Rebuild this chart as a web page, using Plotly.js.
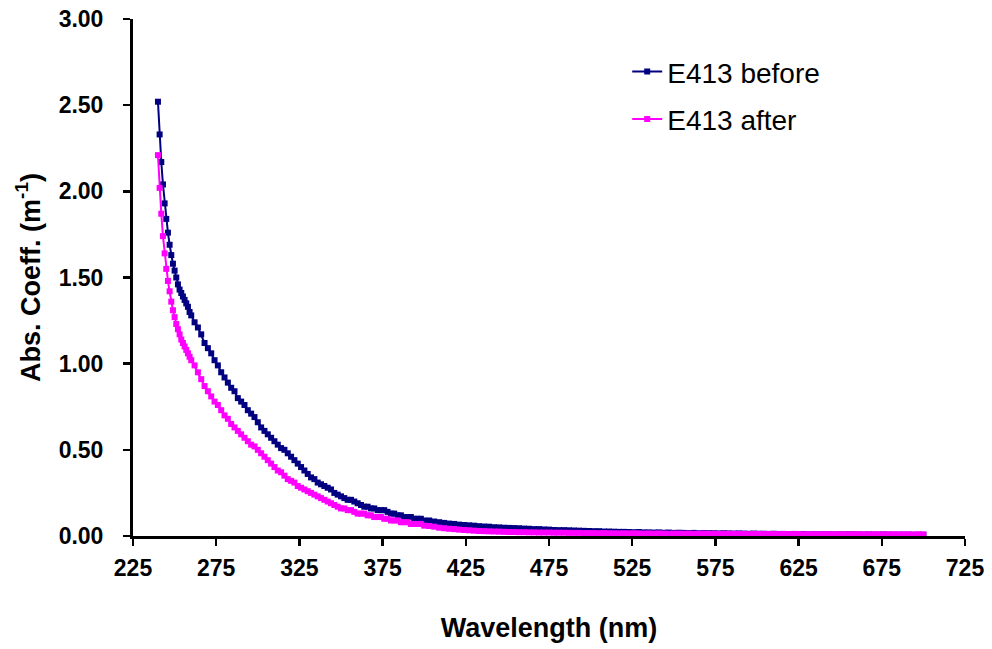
<!DOCTYPE html>
<html>
<head>
<meta charset="utf-8">
<script src="https://cdn.plot.ly/plotly-3.0.1.min.js"></script>
<style>html,body{margin:0;padding:0;background:#fff;}#chart{width:992px;height:649px;}</style>
</head>
<body>
<div id="chart"></div>
<script>
// Wavelength (nm)
const wavelength = [
  240,241,242,243,244,245,246,247,248,249,250,251,252,253,254,255,256,257,258,259,260,
  262,264,266,268,270,272,274,276,278,280,
  282,284,286,288,290,292,294,296,298,300,
  302,304,306,308,310,312,314,316,318,320,
  322,324,326,328,330,332,334,336,338,340,
  342,344,346,348,350,352,354,356,358,360,
  362,364,366,368,370,372,374,376,378,380,
  382,384,386,388,390,392,394,396,398,400,
  403,406,409,412,415,418,421,424,427,430,
  433,436,439,442,445,448,451,454,457,460,
  463,466,469,472,475,478,481,484,487,490,
  493,496,499,502,505,508,511,514,517,520,
  523,526,529,532,535,538,541,544,547,550,
  553,556,559,562,565,568,571,574,577,580,
  583,586,589,592,595,598,601,604,607,610,
  613,616,619,622,625,628,631,634,637,640,
  643,646,649,652,655,658,661,664,667,670,
  673,676,679,682,685,688,691,694,697,700
];

// E413 before (abs. coeff., m^-1)
const before = [
  2.52,2.33,2.17,2.04,1.93,1.84,1.76,1.69,1.63,1.58,1.54,1.50,1.46,1.43,1.41,1.39,1.37,1.35,1.33,1.30,1.28,
  1.24,1.21,1.17,1.12,1.09,1.06,1.02,0.99,0.95,0.92,
  0.89,0.86,0.84,0.80,0.78,0.76,0.73,0.71,0.69,0.66,
  0.63,0.61,0.59,0.57,0.55,0.53,0.51,0.50,0.48,0.46,
  0.44,0.42,0.40,0.38,0.36,0.34,0.33,0.31,0.30,0.29,
  0.28,0.27,0.25,0.24,0.23,0.22,0.21,0.21,0.20,0.19,
  0.18,0.17,0.17,0.16,0.16,0.15,0.15,0.15,0.14,0.13,
  0.13,0.12,0.12,0.11,0.11,0.11,0.10,0.10,0.10,0.09,
  0.090,0.084,0.080,0.076,0.072,0.070,0.066,0.064,0.062,0.060,
  0.057,0.055,0.054,0.051,0.050,0.048,0.047,0.046,0.045,0.043,
  0.042,0.040,0.040,0.038,0.037,0.035,0.034,0.034,0.033,0.032,
  0.031,0.030,0.029,0.028,0.028,0.026,0.026,0.025,0.024,0.024,
  0.023,0.022,0.023,0.021,0.021,0.020,0.021,0.019,0.020,0.018,
  0.019,0.018,0.017,0.018,0.016,0.017,0.016,0.016,0.015,0.016,
  0.015,0.014,0.015,0.014,0.013,0.014,0.013,0.013,0.012,0.013,
  0.012,0.012,0.011,0.012,0.011,0.011,0.010,0.011,0.010,0.010,
  0.011,0.009,0.010,0.009,0.010,0.009,0.009,0.008,0.009,0.008,
  0.008,0.009,0.008,0.007,0.008,0.007,0.008,0.007,0.007,0.007
];

// E413 after (abs. coeff., m^-1)
const after = [
  2.21,2.02,1.87,1.74,1.64,1.55,1.48,1.42,1.36,1.31,1.27,1.23,1.20,1.17,1.14,1.12,1.10,1.08,1.06,1.04,1.02,
  0.99,0.95,0.91,0.87,0.84,0.81,0.78,0.76,0.73,0.70,
  0.68,0.65,0.63,0.61,0.59,0.57,0.55,0.53,0.52,0.50,
  0.48,0.46,0.44,0.42,0.40,0.38,0.37,0.35,0.33,0.32,
  0.31,0.29,0.28,0.27,0.26,0.25,0.24,0.23,0.22,0.21,
  0.20,0.19,0.18,0.17,0.16,0.16,0.15,0.15,0.14,0.13,
  0.13,0.13,0.12,0.12,0.11,0.11,0.11,0.10,0.10,0.09,
  0.09,0.09,0.08,0.08,0.08,0.07,0.07,0.07,0.07,0.06,
  0.058,0.054,0.048,0.045,0.042,0.040,0.037,0.035,0.033,0.031,
  0.029,0.028,0.027,0.026,0.025,0.024,0.023,0.023,0.022,0.022,
  0.021,0.021,0.020,0.020,0.020,0.019,0.019,0.019,0.018,0.018,
  0.018,0.017,0.017,0.017,0.016,0.017,0.016,0.016,0.015,0.016,
  0.015,0.016,0.015,0.014,0.015,0.014,0.015,0.014,0.013,0.014,
  0.014,0.013,0.014,0.013,0.013,0.014,0.012,0.013,0.012,0.013,
  0.012,0.013,0.012,0.012,0.011,0.012,0.012,0.011,0.012,0.011,
  0.011,0.012,0.011,0.011,0.012,0.010,0.011,0.011,0.010,0.011,
  0.011,0.010,0.011,0.010,0.010,0.011,0.010,0.010,0.009,0.010,
  0.010,0.009,0.010,0.010,0.009,0.010,0.009,0.009,0.010,0.009
];

const seriesNames = ['E413 before', 'E413 after'];
const seriesColors = ['#000080', '#FF00FF'];
const xTickVals = [225,275,325,375,425,475,525,575,625,675,725];
const yTickVals = [0,0.5,1,1.5,2,2.5,3];

const FONT = 'Liberation Sans, Arial, sans-serif';

const traces = [before, after].map((ys, i) => ({
  type: 'scatter',
  mode: 'lines+markers',
  x: wavelength,
  y: ys,
  name: seriesNames[i],
  legendgroup: 'g' + i,
  line: {color: seriesColors[i], width: 2},
  marker: {symbol: 'square', size: 6, color: seriesColors[i]},
  cliponaxis: false
}));

const layout = {
  width: 992,
  height: 649,
  margin: {l: 133, r: 27, t: 19, b: 113},
  paper_bgcolor: '#ffffff',
  plot_bgcolor: '#ffffff',
  showlegend: true,
  legend: {
    x: 0.594, y: 0.946, xanchor: 'left', yanchor: 'top',
    font: {family: FONT, size: 28, color: '#000'},
    traceorder: 'grouped',
    tracegroupgap: 8,
    bgcolor: 'rgba(0,0,0,0)'
  },
  xaxis: {
    range: [225, 725],
    tickvals: xTickVals,
    ticktext: xTickVals.map(String),
    showline: true, linecolor: '#000', linewidth: 3,
    ticks: 'outside', ticklen: 7, tickwidth: 2.5, tickcolor: '#000',
    ticklabelstandoff: 2,
    showgrid: false, zeroline: false,
    tickfont: {family: FONT, size: 23, color: '#000', weight: 'bold'},
    title: {text: 'Wavelength (nm)', font: {family: FONT, size: 27, color: '#000', weight: 'bold'}, standoff: 39}
  },
  yaxis: {
    range: [0, 3],
    tickvals: yTickVals,
    ticktext: yTickVals.map(v => v.toFixed(2)),
    showline: true, linecolor: '#000', linewidth: 3,
    ticks: 'outside', ticklen: 7, tickwidth: 2.5, tickcolor: '#000',
    ticklabelstandoff: 15,
    showgrid: false, zeroline: false,
    tickfont: {family: FONT, size: 23, color: '#000', weight: 'bold'},
    title: {text: 'Abs. Coeff. (m<sup>-1</sup>)', font: {family: FONT, size: 27, color: '#000', weight: 'bold'}, standoff: 11}
  }
};

Plotly.newPlot('chart', traces, layout, {displayModeBar: false, staticPlot: true});
</script>
</body>
</html>
